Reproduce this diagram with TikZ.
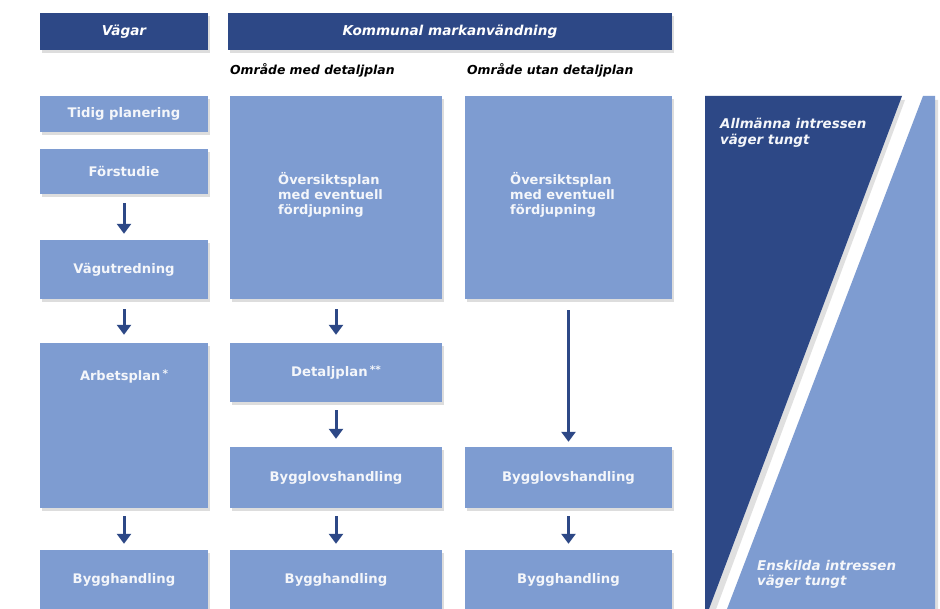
\documentclass[tikz,border=0pt]{standalone}
\usepackage{fontspec}
\setmainfont{DejaVu Sans}
\usetikzlibrary{shadows,arrows.meta}
\definecolor{navy}{HTML}{2D4886}
\definecolor{lightblue}{HTML}{7E9CD1}
\definecolor{offwhite}{HTML}{F4F6FA}
\newcommand{\astx}[1]{\,\raisebox{3pt}{\fontsize{10.5}{10.5}\selectfont #1}}
\tikzset{
  shd/.style={drop shadow={shadow xshift=2pt,shadow yshift=-3pt,opacity=0.22,fill=black!60}},
  hdr/.style={fill=navy,text=white,font=\fontsize{13.6}{15}\selectfont\bfseries\itshape,shd,inner sep=0pt},
  box/.style={fill=lightblue,text=offwhite,font=\fontsize{13.2}{15}\selectfont\bfseries,shd,inner sep=0pt,align=center},
  boxtxt/.style={text=offwhite,font=\fontsize{13}{15}\selectfont\bfseries,align=left,inner sep=0pt},
  sub/.style={text=black,font=\fontsize{12.4}{14}\selectfont\bfseries\itshape,inner sep=0pt},
  flow/.style={draw=navy,line width=3pt,-{Triangle[width=14pt,length=10pt]}},
  tritxt/.style={text=offwhite,font=\fontsize{13.4}{15.5}\selectfont\bfseries\itshape,align=left,inner sep=0pt}
}
\begin{document}
\begin{tikzpicture}[x=1pt,y=-1pt]
\useasboundingbox (0,0) rectangle (940,609);
\fill[white] (0,0) rectangle (940,609);
% headers
\node[hdr,minimum width=168pt,minimum height=37pt] (vagar) at (124,31.5) {Vägar};
\node[hdr,minimum width=444pt,minimum height=37pt] (kommunal) at (450,31.5) {Kommunal markanvändning};
\node[sub,anchor=west] (omed) at (230,70) {Område med detaljplan};
\node[sub,anchor=west] (outan) at (467,70) {Område utan detaljplan};
% column 1
\node[box,minimum width=168pt,minimum height=36pt] (tidig) at (124,114) {Tidig planering};
\node[box,minimum width=168pt,minimum height=45pt] (forst) at (124,171.5) {Förstudie};
\node[box,minimum width=168pt,minimum height=59pt] (vagutr) at (124,269.5) {Vägutredning};
\node[box,minimum width=168pt,minimum height=165pt] (arbets) at (124,425.5) {};
\node[boxtxt] (arbetstxt) at (124,376) {Arbetsplan\astx{*}};
\node[box,minimum width=168pt,minimum height=59pt] (bygg1) at (124,579.5) {Bygghandling};
% column 2
\node[box,minimum width=212pt,minimum height=203pt] (ov1) at (336,197.5) {};
\node[boxtxt,anchor=north west] (ov1txt) at (278,172) {Översiktsplan\\med eventuell\\fördjupning};
\node[box,minimum width=212pt,minimum height=59pt] (detalj) at (336,372.5) {Detaljplan\astx{**}};
\node[box,minimum width=212pt,minimum height=61pt] (bygglov2) at (336,477.5) {Bygglovshandling};
\node[box,minimum width=212pt,minimum height=59pt] (bygg2) at (336,579.5) {Bygghandling};
% column 3
\node[box,minimum width=207pt,minimum height=203pt] (ov2) at (568.5,197.5) {};
\node[boxtxt,anchor=north west] (ov2txt) at (510,172) {Översiktsplan\\med eventuell\\fördjupning};
\node[box,minimum width=207pt,minimum height=61pt] (bygglov3) at (568.5,477.5) {Bygglovshandling};
\node[box,minimum width=207pt,minimum height=59pt] (bygg3) at (568.5,579.5) {Bygghandling};
% arrows
\draw[flow,shorten <=9pt,shorten >=6pt] (forst) -- (vagutr);
\draw[flow,shorten <=10pt,shorten >=8pt] (vagutr) -- (arbets);
\draw[flow,shorten <=8pt,shorten >=6pt] (arbets) -- (bygg1);
\draw[flow,shorten <=10pt,shorten >=8pt] (ov1) -- (detalj);
\draw[flow,shorten <=8pt,shorten >=8pt] (detalj) -- (bygglov2);
\draw[flow,shorten <=8pt,shorten >=6pt] (bygglov2) -- (bygg2);
\draw[flow,shorten <=11pt,shorten >=5pt] (ov2) -- (bygglov3);
\draw[flow,shorten <=8pt,shorten >=6pt] (bygglov3) -- (bygg3);
% interest triangles
\fill[black!60,opacity=0.2] (708,100) -- (905,100) -- (715,612) -- (708,612) -- cycle;
\fill[navy] (705,96) -- (902,96) -- (709,609) -- (705,609) -- cycle;
\fill[black!60,opacity=0.2] (926,100) -- (938,100) -- (938,612) -- (730,612) -- cycle;
\fill[lightblue] (923,96) -- (935,96) -- (935,609) -- (727,609) -- cycle;
\node[tritxt,anchor=north west] (allm) at (720,118) {Allmänna intressen\\väger tungt};
\node[tritxt,anchor=north west] (ensk) at (757,560) {Enskilda intressen\\väger tungt};
\end{tikzpicture}
\end{document}
